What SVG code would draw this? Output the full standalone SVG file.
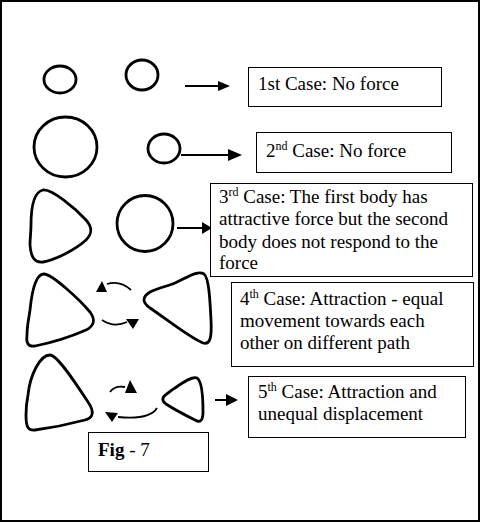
<svg xmlns="http://www.w3.org/2000/svg" width="481" height="523" viewBox="0 0 481 523">
<style>
.body{fill:none;stroke:#000;stroke-width:2.8;stroke-linejoin:round}
.box{fill:#fff;stroke:#000;stroke-width:1}
.t{font-family:"Liberation Serif","Times New Roman",serif;font-size:19px;fill:#000}
.sup{font-size:12px}
.ln{fill:none;stroke:#000;stroke-width:2}
.arc{fill:none;stroke:#000;stroke-width:1.8}
.head{fill:#000;stroke:none}
</style>
<rect x="1" y="1" width="478" height="520" fill="#fff" stroke="#000" stroke-width="2"/>

<g id="row1-body1"><ellipse class="body" cx="60" cy="79.5" rx="16" ry="13.5"/></g>
<g id="row1-body2"><ellipse class="body" cx="142" cy="75" rx="16" ry="15"/></g>
<g id="row2-body1"><ellipse class="body" cx="65.5" cy="147" rx="31.5" ry="30"/></g>
<g id="row2-body2"><ellipse class="body" cx="164" cy="148.5" rx="16" ry="14.5"/></g>
<g id="row3-body1"><path class="body" d="M31,225 C31,205 34,192 43,190 C52,189 75,208 86,220 C93,228 92,234 86,240 C75,250 55,260 43,262 C35,263 31,258 30,245 C30,238 31,232 31,225 Z"/></g>
<g id="row3-body2"><circle class="body" cx="145" cy="223.5" r="28"/></g>
<g id="row4-body1"><path class="body" d="M30,310 C32,290 36,274 44,274 C52,274 80,300 90,312 C96,320 94,326 86,330 C70,337 50,343 35,346 C28,347 26,343 27,335 C27,325 29,318 30,310 Z"/></g>
<g id="row4-body2"><path class="body" d="M175,283 C188,277 198,270 204,274 C209,278 210,300 211,320 C212,338 210,345 203,343 C190,338 165,318 150,308 C142,302 142,297 150,292 C158,288 168,286 175,283 Z"/></g>
<g id="row5-body1"><path class="body" d="M28,395 C30,375 40,355 50,355 C58,355 80,390 88,402 C95,412 93,418 85,420 C70,424 50,428 35,430 C27,431 26,425 26,415 C26,408 27,400 28,395 Z"/></g>
<g id="row5-body2"><path class="body" d="M175,388 C185,381 193,376 197,378 C202,381 203,400 203,412 C203,421 200,423 195,420 C185,415 172,408 166,404 C161,400 162,397 168,393 C171,391 173,389 175,388 Z"/></g>

<g id="connectors">
<line class="ln" x1="185" y1="86" x2="220" y2="86"/><polygon class="head" points="230,86 218,81 218,91"/>
<line class="ln" x1="181" y1="155" x2="230" y2="155"/><polygon class="head" points="242,155 228,149 228,161"/>
<line class="ln" x1="177" y1="228" x2="203" y2="228"/><polygon class="head" points="212,228 202,222 202,234"/>
<path class="arc" d="M131,290 Q120,280 107,284"/><polygon class="head" points="102,281 96,292 107,292"/>
<path class="arc" d="M102,320 Q114,328 127,322"/><polygon class="head" points="133,329 126,319 139,319"/>
<path class="arc" d="M110,392 Q115,385 125,387"/><polygon class="head" points="130,380 125,393 137,393"/>
<path class="arc" d="M157,408 Q150,420 118,417"/><polygon class="head" points="112,422 105,412 118,413"/>
<line class="ln" x1="215" y1="400" x2="228" y2="400"/><polygon class="head" points="238,400 226,394 226,406"/>
</g>

<g id="case1"><rect class="box" x="248.5" y="67.5" width="193" height="39"/>
<text class="t" x="258" y="90">1st Case: No force</text></g>
<g id="case2"><rect class="box" x="256.5" y="132.5" width="195" height="40"/>
<text class="t" x="266" y="157">2<tspan class="sup" dy="-7">nd</tspan><tspan dy="7"> Case: No force</tspan></text></g>
<g id="case3"><rect class="box" x="210.5" y="183.5" width="262" height="93"/>
<text class="t" x="219" y="203">3<tspan class="sup" dy="-7">rd</tspan><tspan dy="7"> Case: The first body has</tspan></text>
<text class="t" x="219" y="225">attractive force but the second</text>
<text class="t" x="219" y="248">body does not respond to the</text>
<text class="t" x="219" y="269">force</text></g>
<g id="case4"><rect class="box" x="231.5" y="282.5" width="242" height="84"/>
<text class="t" x="240" y="305">4<tspan class="sup" dy="-7">th</tspan><tspan dy="7"> Case: Attraction - equal</tspan></text>
<text class="t" x="240" y="327">movement towards each</text>
<text class="t" x="240" y="349">other on different path</text></g>
<g id="case5"><rect class="box" x="248.5" y="376.5" width="217" height="61"/>
<text class="t" x="258" y="398">5<tspan class="sup" dy="-7">th</tspan><tspan dy="7"> Case: Attraction and</tspan></text>
<text class="t" x="258" y="420">unequal displacement</text></g>
<g id="fig"><rect class="box" x="88.5" y="432.5" width="120" height="39"/>
<text class="t" x="98" y="456"><tspan font-weight="bold">Fig</tspan> - 7</text></g>
</svg>
